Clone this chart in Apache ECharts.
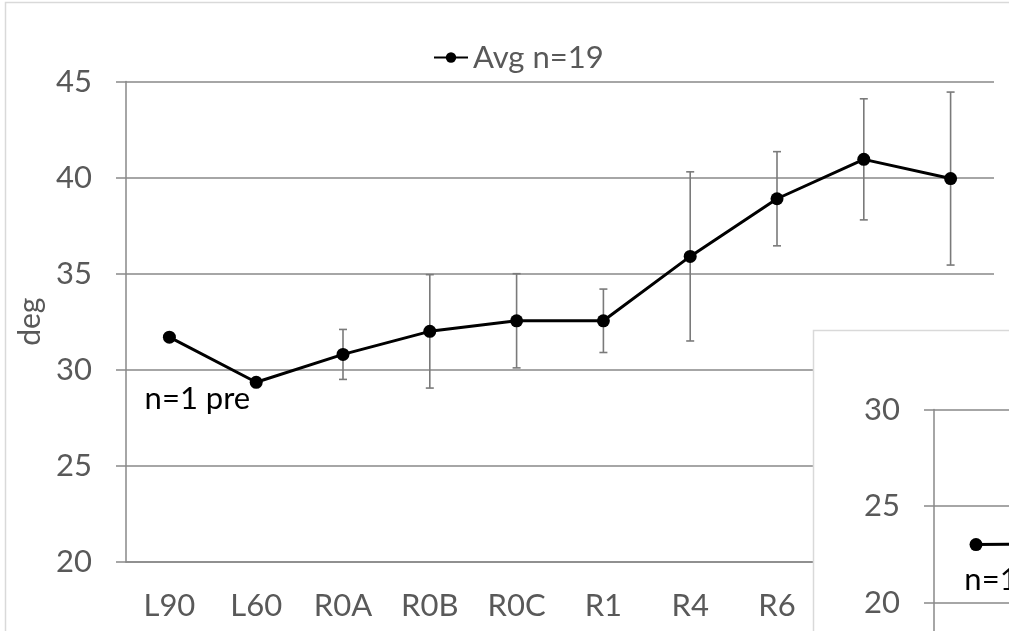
<!DOCTYPE html>
<html>
<head>
<meta charset="utf-8">
<script src="https://cdn.jsdelivr.net/npm/echarts@6/dist/echarts.min.js"></script>
<style>
html,body{margin:0;padding:0;background:#fff;}
#chart{width:1009px;height:631px;}
</style>
</head>
<body>
<div id="chart"></div>
<script>
// ---- data ----
var categories = ['L90', 'L60', 'R0A', 'R0B', 'R0C', 'R1', 'R4', 'R6', '', ''];
var avgValues = [31.7, 29.35, 30.8, 32.0, 32.55, 32.55, 35.9, 38.9, 40.95, 39.95];
var errValues = [null, null, 1.3, 2.95, 2.45, 1.65, 4.4, 2.45, 3.15, 4.5];
var yTicks = [20, 25, 30, 35, 40, 45];
var seriesName = 'Avg n=19';
var preLabel = 'n=1 pre';

var insetCategories = ['', ''];
var insetValues = [23.0, 23.05];
var insetTicks = [15, 20, 25, 30];
var insetLabel = 'n=1';

// ---- build ----
var FONT = 'Lato';
var GRID_C = '#898989';
var TEXT_C = '#595959';
var FS = 31;

var errData = [];
for (var i = 0; i < avgValues.length; i++) {
  if (errValues[i] != null) {
    errData.push([i, avgValues[i] - errValues[i], avgValues[i] + errValues[i]]);
  }
}

var mainData = avgValues.map(function (v, i) {
  if (i === 0) {
    return {
      value: v,
      label: {
        show: true, formatter: preLabel, position: 'bottom',
        offset: [28, 35], color: '#000', fontFamily: FONT, fontSize: 31
      }
    };
  }
  return v;
});

var insetData = insetValues.map(function (v, i) {
  if (i === 0) {
    return {
      value: v,
      label: {
        show: true, formatter: insetLabel, position: 'bottom',
        offset: [15, 8], color: '#000', fontFamily: FONT, fontSize: 31
      }
    };
  }
  return v;
});

var chart = echarts.init(document.getElementById('chart'));
var option = {
  animation: false,
  backgroundColor: '#fff',
  textStyle: { fontFamily: FONT },
  legend: {
    top: 37, left: 428,
    data: [seriesName],
    itemWidth: 34, itemHeight: 13,
    textStyle: { color: TEXT_C, fontSize: FS, fontFamily: FONT }
  },
  grid: [
    { left: 126, top: 81.5, width: 868, height: 480.5, outerBoundsMode: 'none' },
    { left: 934, top: 409.5, width: 168, height: 289.5, outerBoundsMode: 'none' }
  ],
  xAxis: [
    {
      type: 'category', gridIndex: 0, data: categories, boundaryGap: true,
      axisLine: { show: true, lineStyle: { color: GRID_C, width: 1.5 } },
      axisTick: { show: false },
      axisLabel: { color: TEXT_C, fontSize: FS, fontFamily: FONT, margin: 28, interval: 0 },
      splitLine: { show: false }, z: 0
    },
    {
      type: 'category', gridIndex: 1, data: insetCategories, boundaryGap: true,
      axisLine: { show: true, lineStyle: { color: GRID_C, width: 1.5 } },
      axisTick: { show: false },
      axisLabel: { show: false },
      splitLine: { show: false }, z: 11
    }
  ],
  yAxis: [
    {
      type: 'value', gridIndex: 0,
      min: yTicks[0], max: yTicks[yTicks.length - 1], interval: yTicks[1] - yTicks[0],
      name: 'deg', nameLocation: 'middle', nameGap: 76, nameRotate: 90,
      nameTextStyle: { color: TEXT_C, fontSize: 30, fontFamily: FONT },
      axisLine: { show: true, lineStyle: { color: GRID_C, width: 1.5 } },
      axisTick: { show: true, length: 10, lineStyle: { color: GRID_C, width: 1.5 } },
      axisLabel: { color: TEXT_C, fontSize: FS, fontFamily: FONT, margin: 34, padding: [6, 0, 0, 0] },
      splitLine: { show: true, lineStyle: { color: GRID_C, width: 1.5 } }, z: 0
    },
    {
      type: 'value', gridIndex: 1,
      min: insetTicks[0], max: insetTicks[insetTicks.length - 1], interval: insetTicks[1] - insetTicks[0],
      axisLine: { show: true, lineStyle: { color: GRID_C, width: 1.5 } },
      axisTick: { show: true, length: 10, lineStyle: { color: GRID_C, width: 1.5 } },
      axisLabel: { color: TEXT_C, fontSize: FS, fontFamily: FONT, margin: 34, padding: [6, 0, 0, 0] },
      splitLine: { show: true, lineStyle: { color: GRID_C, width: 1.5 } }, z: 11
    }
  ],
  graphic: {
    elements: [
      {
        type: 'rect', z: -1, silent: true,
        shape: { x: 5.5, y: 2.5, width: 1100, height: 700 },
        style: { fill: null, stroke: '#d9d9d9', lineWidth: 1.5 }
      },
      {
        type: 'rect', z: 10, silent: true,
        shape: { x: 813.5, y: 330.5, width: 400, height: 400 },
        style: { fill: '#fff', stroke: '#d9d9d9', lineWidth: 1.5 }
      }
    ]
  },
  series: [
    {
      type: 'custom', xAxisIndex: 0, yAxisIndex: 0, z: 1, silent: true,
      data: errData,
      encode: { x: 0, y: [1, 2] },
      renderItem: function (params, api) {
        var x = api.value(0);
        var lo = api.coord([x, api.value(1)]);
        var hi = api.coord([x, api.value(2)]);
        var cw = 4;
        var st = { stroke: '#7a7a7a', lineWidth: 1.6 };
        return {
          type: 'group',
          children: [
            { type: 'line', shape: { x1: lo[0], y1: lo[1], x2: hi[0], y2: hi[1] }, style: st },
            { type: 'line', shape: { x1: lo[0] - cw, y1: lo[1], x2: lo[0] + cw, y2: lo[1] }, style: st },
            { type: 'line', shape: { x1: hi[0] - cw, y1: hi[1], x2: hi[0] + cw, y2: hi[1] }, style: st }
          ]
        };
      }
    },
    {
      name: seriesName, type: 'line', xAxisIndex: 0, yAxisIndex: 0, z: 2,
      data: mainData,
      symbol: 'circle', symbolSize: 13,
      itemStyle: { color: '#000' },
      lineStyle: { color: '#000', width: 3 }
    },
    {
      name: 'inset', type: 'line', xAxisIndex: 1, yAxisIndex: 1, z: 12,
      data: insetData,
      symbol: 'circle', symbolSize: 13,
      itemStyle: { color: '#000' },
      lineStyle: { color: '#000', width: 3 }
    }
  ]
};
chart.setOption(option);
</script>
</body>
</html>
